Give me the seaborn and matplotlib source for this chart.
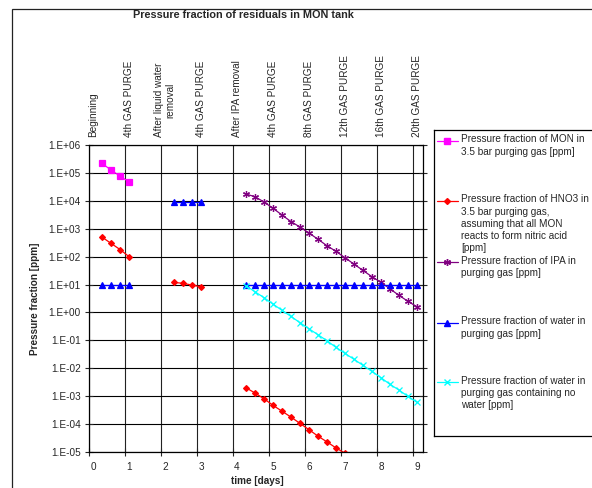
import numpy as np
import pandas as pd
import matplotlib.pyplot as plt
import seaborn as sns
from matplotlib.patches import Rectangle
from matplotlib.ticker import FixedLocator, FuncFormatter

# time axis for each block of purges [days]
t_first = [0.25, 0.5, 0.75, 1.0]
t_second = [2.25, 2.5, 2.75, 3.0]
t_hno3_last = [4.25, 4.5, 4.75, 5.0, 5.25, 5.5, 5.75, 6.0, 6.25, 6.5, 6.75, 7.0]
t_last = [4.25, 4.5, 4.75, 5.0, 5.25, 5.5, 5.75, 6.0, 6.25, 6.5,
          6.75, 7.0, 7.25, 7.5, 7.75, 8.0, 8.25, 8.5, 8.75, 9.0]

# pressure fractions [ppm]
mon = [2.2e5, 1.27e5, 7.7e4, 4.8e4]
hno3_a = [500, 300, 180, 100]
hno3_b = [12, 11, 9.6, 8.3]
hno3_c = [2.0e-3, 1.3e-3, 8.1e-4, 4.7e-4, 2.9e-4, 1.78e-4, 1.06e-4,
          6.3e-5, 3.7e-5, 2.3e-5, 1.4e-5, 9.0e-6]
ipa = [1.75e4, 1.4e4, 9.1e3, 5.4e3, 3.1e3, 1.8e3, 1.15e3, 700, 420, 245,
       155, 91, 54, 32, 19, 12, 7.0, 4.1, 2.5, 1.6]
water_a = [10, 10, 10, 10]
water_b = [9000, 9000, 9000, 9000]
water_c = [10] * 20
water_dry = [9.1, 5.5, 3.4, 2.0, 1.19, 0.72, 0.43, 0.26, 0.159, 0.097,
             0.056, 0.034, 0.021, 0.0127, 0.0077, 0.0046, 0.00265, 0.00166,
             0.00098, 0.0006]

top_labels = ['Beginning', '4th GAS PURGE', 'After liquid water\nremoval',
              '4th GAS PURGE', 'After IPA removal', '4th GAS PURGE',
              '8th GAS PURGE', '12th GAS PURGE', '16th GAS PURGE',
              '20th GAS PURGE']
legend_labels = [
    'Pressure fraction of MON in\n3.5 bar purging gas [ppm]',
    'Pressure fraction of HNO3 in\n3.5 bar purging gas,\nassuming that all MON\nreacts to form nitric acid\n[ppm]',
    'Pressure fraction of IPA in\npurging gas [ppm]',
    'Pressure fraction of water in\npurging gas [ppm]',
    'Pressure fraction of water in\npurging gas containing no\nwater [ppm]',
]

def block(name, seg, t, v):
    return pd.DataFrame({'series': name, 'segment': seg, 'time': t, 'value': v})

df = pd.concat([
    block('MON', 0, t_first, mon),
    block('HNO3', 0, t_first, hno3_a),
    block('HNO3', 1, t_second, hno3_b),
    block('HNO3', 2, t_hno3_last, hno3_c),
    block('IPA', 0, t_last, ipa),
    block('water', 0, t_first, water_a),
    block('water', 1, t_second, water_b),
    block('water', 2, t_last, water_c),
    block('dry', 0, t_last, water_dry),
])

styles = {
    'MON': dict(color='#FF00FF', marker='s', ms=3.8),
    'HNO3': dict(color='#FF0000', marker='D', ms=3.0),
    'IPA': dict(color='#800080', marker=(6, 2, 0), ms=5.0),
    'water': dict(color='#0000FF', marker='^', ms=4.2),
    'dry': dict(color='#00FFFF', marker='x', ms=4.0),
}

sns.set_style('white')
plt.rcParams['font.family'] = ['Liberation Sans', 'DejaVu Sans']
fs = 7.2

fig = plt.figure(figsize=(5.92, 4.88), dpi=100)
W, H = 592, 488
ax = fig.add_axes([89 / W, 1 - 452 / H, (423 - 89) / W, (452 - 145) / H])

for name, st in styles.items():
    sub = df[df['series'] == name]
    sns.lineplot(data=sub, x='time', y='value', units='segment', estimator=None,
                 color=st['color'], marker=st['marker'], markersize=st['ms'],
                 markeredgecolor=st['color'], markerfacecolor=st['color'],
                 markeredgewidth=0.9, lw=0.9, ax=ax, legend=False, clip_on=True)

ax.set_yscale('log')
ax.set_ylim(1e-5, 1e6)
ax.set_xlim(-0.111, 9.167)

yt = [10.0 ** k for k in range(-5, 7)]
ax.yaxis.set_major_locator(FixedLocator(yt))
ax.yaxis.set_minor_locator(FixedLocator([]))
ax.yaxis.set_major_formatter(FuncFormatter(lambda v, p: '1.E%+03d' % round(np.log10(v))))

grid_x = [k - 0.111 for k in range(10)]
ax.set_xticks(range(10))
ax.set_xticks(grid_x, minor=True)
ax.tick_params(axis='x', which='major', length=0, pad=7, labelsize=fs)
ax.tick_params(axis='x', which='minor', length=6, direction='inout', width=0.8,
               bottom=True, top=True)
ax.tick_params(axis='y', which='major', length=6, direction='inout', width=0.8,
               left=True, right=True, labelsize=fs, pad=3)
ax.grid(True, which='minor', axis='x', color='#222222', lw=0.8)
ax.grid(True, which='major', axis='y', color='black', lw=0.8)
for s in ax.spines.values():
    s.set_color('black')
    s.set_linewidth(0.9)

ax.set_xlabel('time [days]', fontsize=fs, fontweight='bold')
ax.set_ylabel('Pressure fraction [ppm]', fontsize=fs, fontweight='bold')
ax.xaxis.set_label_coords(0.503, -0.078)
ax.yaxis.set_label_coords(-0.148, 0.5)

ax2 = ax.twiny()
ax2.set_xlim(ax.get_xlim())
ax2.set_xticks(range(10))
ax2.set_xticklabels(top_labels, rotation=90, fontsize=fs, ha='center', va='bottom',
                    multialignment='center')
ax2.tick_params(axis='x', length=0, pad=5.5)
ax2.grid(False)
for s in ax2.spines.values():
    s.set_visible(False)

fig.text(243 / W, 1 - 15 / H, 'Pressure fraction of residuals in MON tank',
         ha='center', va='center', fontsize=7.8, fontweight='bold')

# legend box drawn by hand to keep the Excel layout
lax = fig.add_axes([434 / W, 1 - 436 / H, 170 / W, (436 - 130) / H])
lax.set_xlim(0, 170)
lax.set_ylim(306, 0)
lax.set_xticks([])
lax.set_yticks([])
for s in lax.spines.values():
    s.set_color('black')
    s.set_linewidth(0.9)
entry_y = [11, 71, 132, 193, 252]
for (name, st), lab, yy in zip(styles.items(), legend_labels, entry_y):
    lax.plot([3, 13, 24], [yy, yy, yy], color=st['color'], lw=0.9,
             marker=st['marker'], ms=st['ms'], mec=st['color'], mfc=st['color'],
             markevery=[1])
    lax.text(27, yy - 6.5, lab, fontsize=fs, va='top', ha='left', linespacing=1.28)

fig.patches.append(Rectangle((12 / W, -0.1), 1.2, 1 - 9 / H + 0.1,
                             transform=fig.transFigure, fill=False,
                             edgecolor='#222222', lw=0.9))

plt.savefig('out.png', dpi=100)
